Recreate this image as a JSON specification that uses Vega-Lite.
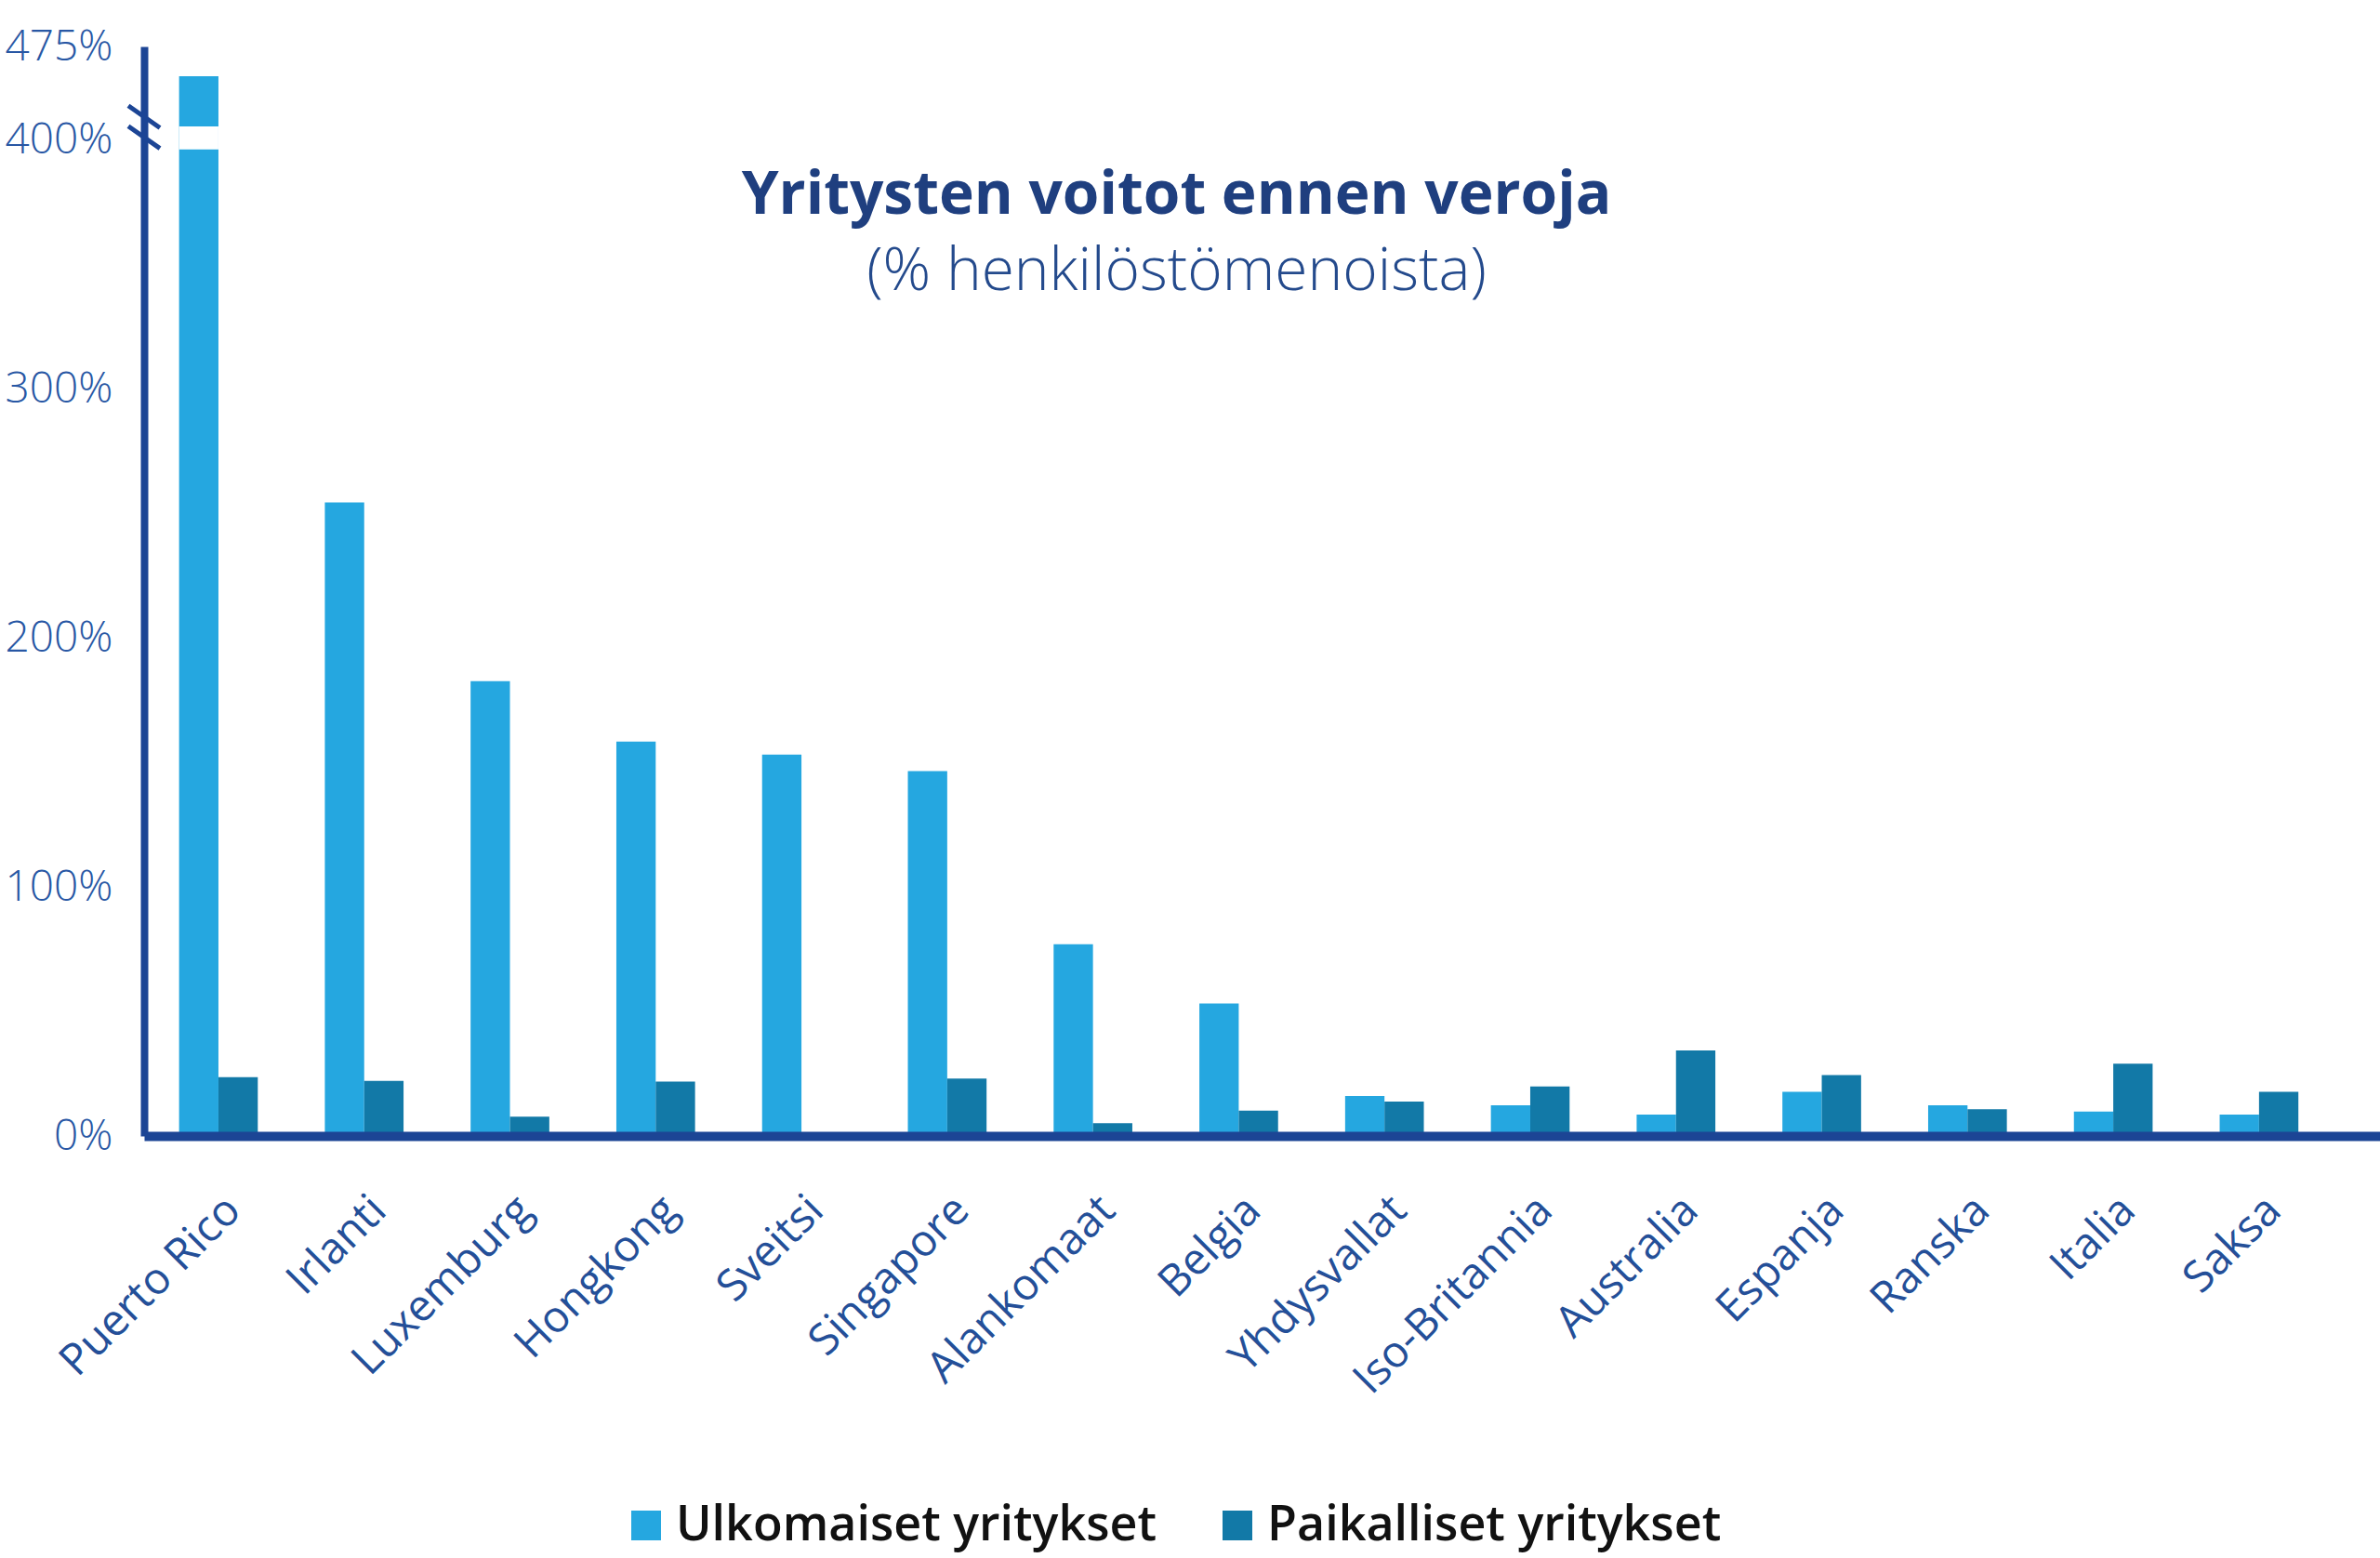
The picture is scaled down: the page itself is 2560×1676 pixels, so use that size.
{
  "$schema": "https://vega.github.io/schema/vega-lite/v6.json",
  "width": 2405,
  "height": 1172,
  "autosize": {"type": "none"},
  "padding": {"left": 155, "top": 50, "right": 0, "bottom": 454},
  "background": "white",
  "title": {
    "text": "Yritysten voitot ennen veroja",
    "subtitle": "(% henkilöstömenoista)",
    "anchor": "middle",
    "frame": "group",
    "offset": -298,
    "dx": -92,
    "font": "Open Sans",
    "fontSize": 64,
    "fontWeight": 700,
    "color": "#1f3f7f",
    "subtitleFont": "Open Sans",
    "subtitleFontSize": 64,
    "subtitleFontWeight": 300,
    "subtitleColor": "#244a8c",
    "subtitlePadding": 18
  },
  "datasets": {
    "voitot": [
      {"maa": "Puerto Rico", "tyyppi": "Ulkomaiset yritykset", "arvo": 451},
      {"maa": "Puerto Rico", "tyyppi": "Paikalliset yritykset", "arvo": 23.6},
      {"maa": "Irlanti", "tyyppi": "Ulkomaiset yritykset", "arvo": 254.3},
      {"maa": "Irlanti", "tyyppi": "Paikalliset yritykset", "arvo": 22.1},
      {"maa": "Luxemburg", "tyyppi": "Ulkomaiset yritykset", "arvo": 182.6},
      {"maa": "Luxemburg", "tyyppi": "Paikalliset yritykset", "arvo": 7.7},
      {"maa": "Hongkong", "tyyppi": "Ulkomaiset yritykset", "arvo": 158.3},
      {"maa": "Hongkong", "tyyppi": "Paikalliset yritykset", "arvo": 21.8},
      {"maa": "Sveitsi", "tyyppi": "Ulkomaiset yritykset", "arvo": 153.1},
      {"maa": "Sveitsi", "tyyppi": "Paikalliset yritykset", "arvo": 0},
      {"maa": "Singapore", "tyyppi": "Ulkomaiset yritykset", "arvo": 146.5},
      {"maa": "Singapore", "tyyppi": "Paikalliset yritykset", "arvo": 23},
      {"maa": "Alankomaat", "tyyppi": "Ulkomaiset yritykset", "arvo": 77},
      {"maa": "Alankomaat", "tyyppi": "Paikalliset yritykset", "arvo": 5.1},
      {"maa": "Belgia", "tyyppi": "Ulkomaiset yritykset", "arvo": 53.2},
      {"maa": "Belgia", "tyyppi": "Paikalliset yritykset", "arvo": 10.2},
      {"maa": "Yhdysvallat", "tyyppi": "Ulkomaiset yritykset", "arvo": 16},
      {"maa": "Yhdysvallat", "tyyppi": "Paikalliset yritykset", "arvo": 13.8},
      {"maa": "Iso-Britannia", "tyyppi": "Ulkomaiset yritykset", "arvo": 12.3},
      {"maa": "Iso-Britannia", "tyyppi": "Paikalliset yritykset", "arvo": 19.9},
      {"maa": "Australia", "tyyppi": "Ulkomaiset yritykset", "arvo": 8.6},
      {"maa": "Australia", "tyyppi": "Paikalliset yritykset", "arvo": 34.3},
      {"maa": "Espanja", "tyyppi": "Ulkomaiset yritykset", "arvo": 17.7},
      {"maa": "Espanja", "tyyppi": "Paikalliset yritykset", "arvo": 24.4},
      {"maa": "Ranska", "tyyppi": "Ulkomaiset yritykset", "arvo": 12.3},
      {"maa": "Ranska", "tyyppi": "Paikalliset yritykset", "arvo": 10.7},
      {"maa": "Italia", "tyyppi": "Ulkomaiset yritykset", "arvo": 9.8},
      {"maa": "Italia", "tyyppi": "Paikalliset yritykset", "arvo": 29},
      {"maa": "Saksa", "tyyppi": "Ulkomaiset yritykset", "arvo": 8.6},
      {"maa": "Saksa", "tyyppi": "Paikalliset yritykset", "arvo": 17.7}
    ],
    "katko": [
      {"maa": "Puerto Rico", "tyyppi": "Ulkomaiset yritykset", "alku": 396, "loppu": 410.5}
    ]
  },
  "encoding": {
    "x": {
      "field": "maa",
      "type": "nominal",
      "sort": null,
      "title": null,
      "scale": {"paddingInner": 0.46, "paddingOuter": 0.4, "align": 0.3},
      "axis": {
        "labelAngle": -45,
        "labelFont": "Open Sans",
        "labelFontSize": 47,
        "labelColor": "#244f98",
        "labelPadding": 56,
        "labelLimit": 1000,
        "ticks": false,
        "domainColor": "#1c4595",
        "domainWidth": 10,
        "zindex": 1
      }
    },
    "xOffset": {"field": "tyyppi", "type": "nominal", "sort": ["Ulkomaiset yritykset", "Paikalliset yritykset"]}
  },
  "layer": [
    {
      "data": {"name": "voitot"},
      "mark": {"type": "bar"},
      "encoding": {
        "y": {
          "field": "arvo",
          "type": "quantitative",
          "title": null,
          "scale": {"domain": [0, 400, 475], "range": [1172, 100, 0], "nice": false},
          "axis": {
            "values": [0, 100, 200, 300, 400, 475],
            "labelExpr": "datum.value + '%'",
            "labelFont": "Open Sans",
            "labelFontSize": 46,
            "labelFontWeight": 300,
            "labelColor": "#2857a4",
            "labelPadding": 34,
            "labelFlush": false,
            "labelOverlap": false,
            "ticks": false,
            "grid": false,
            "domainColor": "#1c4595",
            "domainWidth": 8
          }
        },
        "color": {
          "field": "tyyppi",
          "type": "nominal",
          "sort": ["Ulkomaiset yritykset", "Paikalliset yritykset"],
          "scale": {"domain": ["Ulkomaiset yritykset", "Paikalliset yritykset"], "range": ["#25a7e0", "#1279a7"]},
          "legend": {
            "title": null,
            "orient": "none",
            "direction": "horizontal",
            "legendX": 514,
            "legendY": 1565,
            "symbolType": "square",
            "symbolSize": 1024,
            "symbolStrokeWidth": 0,
            "labelFont": "Open Sans",
            "labelFontSize": 52,
            "labelFontWeight": 600,
            "labelColor": "#111111",
            "labelOffset": 6,
            "columnPadding": 60,
            "labelLimit": 800,
            "padding": 0
          }
        }
      }
    },
    {
      "data": {"name": "katko"},
      "mark": {"type": "rect", "color": "white"},
      "encoding": {
        "y": {"field": "alku", "type": "quantitative"},
        "y2": {"field": "loppu"}
      }
    },
    {
      "data": {"values": [{"kohta": 410}]},
      "mark": {
        "type": "point",
        "shape": "M-1,-1.35L1,0.05M-1,-0.05L1,1.35",
        "filled": false,
        "size": 1156,
        "strokeWidth": 5,
        "color": "#1c4595",
        "opacity": 1
      },
      "encoding": {
        "x": {"value": 0},
        "xOffset": null,
        "y": {"field": "kohta", "type": "quantitative"}
      }
    }
  ],
  "config": {
    "view": {"stroke": null},
    "axis": {"grid": false}
  }
}
